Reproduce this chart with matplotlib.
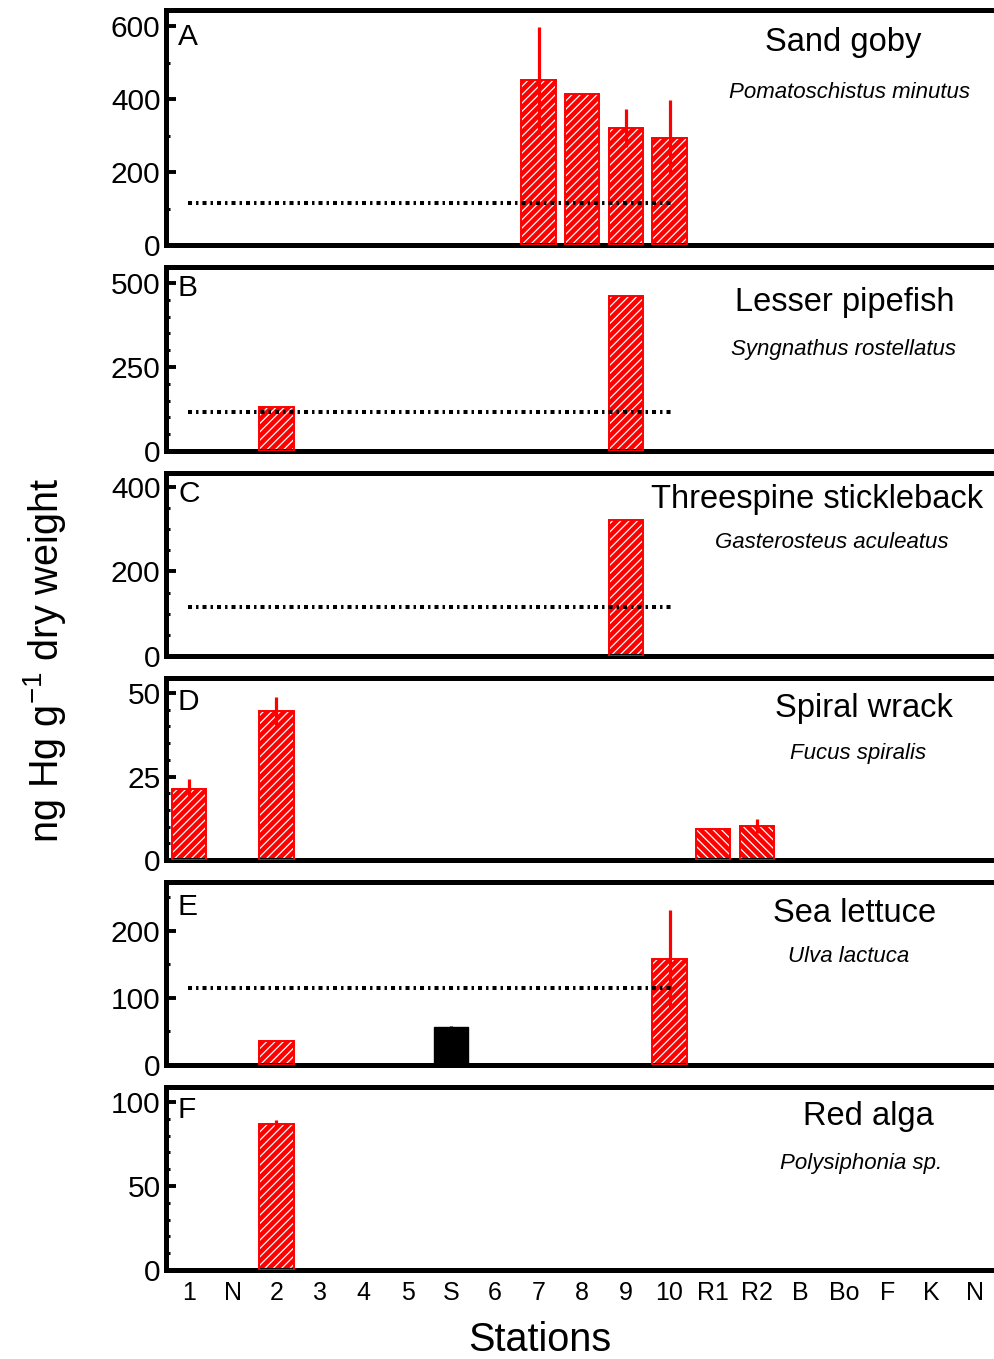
import numpy as np
import matplotlib
matplotlib.use("Agg")
import matplotlib.pyplot as plt
from matplotlib.ticker import MultipleLocator

plt.rcParams['font.family'] = ['Liberation Sans', 'DejaVu Sans']
plt.rcParams['mathtext.default'] = 'regular'
plt.rcParams['hatch.linewidth'] = 0.9

# ---------------- data ----------------
stations = ['1', 'N', '2', '3', '4', '5', 'S', '6', '7', '8', '9', '10',
            'R1', 'R2', 'B', 'Bo', 'F', 'K', 'N']

ref_level = 115          # dotted reference level
ref_from, ref_to = '1', '10'

# A  Sand goby
goby_st = ['7', '8', '9', '10']
goby_val = [452, 415, 320, 294]
goby_err = [147, 0, 52, 104]

# B  Lesser pipefish
pipe_st = ['2', '9']
pipe_val = [131, 461]
pipe_err = [0, 0]

# C  Threespine stickleback
stick_st = ['9']
stick_val = [322]
stick_err = [0]

# D  Spiral wrack
wrack_st = ['1', '2', 'R1', 'R2']
wrack_val = [21.3, 44.6, 9.3, 10.2]
wrack_err = [3.0, 4.2, 0, 2.0]

# E  Sea lettuce
lettuce_st = ['2', 'S', '10']
lettuce_val = [36, 56, 158]
lettuce_err = [0, 2.5, 73]

# F  Red alga
alga_st = ['2']
alga_val = [87]
alga_err = [2.2]

panels = [
    dict(letter='A', common='Sand goby', latin='Pomatoschistus minutus',
         st=goby_st, val=goby_val, err=goby_err, ylim=645, major=200, minor=100,
         ref=True),
    dict(letter='B', common='Lesser pipefish', latin='Syngnathus rostellatus',
         st=pipe_st, val=pipe_val, err=pipe_err, ylim=548, major=250, minor=50,
         ref=True),
    dict(letter='C', common='Threespine stickleback', latin='Gasterosteus aculeatus',
         st=stick_st, val=stick_val, err=stick_err, ylim=433, major=200, minor=50,
         ref=True),
    dict(letter='D', common='Spiral wrack', latin='Fucus spiralis',
         st=wrack_st, val=wrack_val, err=wrack_err, ylim=54.5, major=25, minor=5,
         ref=False),
    dict(letter='E', common='Sea lettuce', latin='Ulva lactuca',
         st=lettuce_st, val=lettuce_val, err=lettuce_err, ylim=273, major=100, minor=50,
         ref=True),
    dict(letter='F', common='Red alga', latin='Polysiphonia sp.',
         st=alga_st, val=alga_val, err=alga_err, ylim=109, major=50, minor=10,
         ref=False),
]

# ---------------- layout (pixels) ----------------
W, H = 995, 1359
panel_px = [(10, 245), (267, 451), (473, 656), (678, 860), (882, 1065), (1087, 1270)]
title_y = [42, 303, 500, 709, 913, 1117]
title_x = [843, 845, 817, 864, 855, 868]
latin_y = [92, 349, 542, 753, 957, 1164]
latin_x = [850, 844, 832, 858, 849, 861]
letter_y = [37, 288, 494, 702, 907, 1110]

left_px = 166
xmin, xmax = -0.53, 18.7
step_px = 43.67
right_px = left_px + (xmax - xmin) * step_px

fig = plt.figure(figsize=(W / 100, H / 100), dpi=100)

RED = '#ff0000'
bar_w = 0.78
xpos = np.arange(len(stations))

for i, p in enumerate(panels):
    top, bot = panel_px[i]
    ax = fig.add_axes([left_px / W, 1 - bot / H, (right_px - left_px) / W, (bot - top) / H])
    idx = [stations.index(s) for s in p['st']]
    for j, (k, v, e) in enumerate(zip(idx, p['val'], p['err'])):
        st = p['st'][j]
        if p['letter'] == 'E' and st == 'S':
            ax.bar(k, v, width=bar_w, color='black', edgecolor='black', linewidth=1, zorder=2)
            ecol = 'black'
        else:
            hatch = '\\\\\\\\' if st in ('R1', 'R2') else '////'
            ax.bar(k, v, width=bar_w, color=RED, edgecolor='white', hatch=hatch,
                   linewidth=0, zorder=2)
            ax.bar(k, v, width=bar_w, fill=False, edgecolor=RED, linewidth=1.4, zorder=3)
            ecol = RED
        if e > 0:
            ax.errorbar(k, v, yerr=e, fmt='none', ecolor=ecol, elinewidth=2.3,
                        capsize=0, zorder=4)
    if p['ref']:
        ax.plot([stations.index(ref_from) - 0.02, stations.index(ref_to) + 0.05],
                [ref_level, ref_level],
                color='black', lw=2.9, dashes=(1.0, 1.0, 0.6, 1.0), zorder=5,
                solid_capstyle='butt', dash_capstyle='butt')

    ax.set_xlim(xmin, xmax)
    ax.set_ylim(0, p['ylim'])
    ax.yaxis.set_major_locator(MultipleLocator(p['major']))
    ax.yaxis.set_minor_locator(MultipleLocator(p['minor']))
    ax.set_xticks(xpos)
    if i == len(panels) - 1:
        ax.set_xticklabels(stations, fontsize=18)
    else:
        ax.set_xticklabels([])
    ax.tick_params(axis='x', length=0, pad=8)
    ax.tick_params(axis='y', which='major', direction='in', length=7, width=2.8,
                   labelsize=21.5, pad=4)
    ax.tick_params(axis='y', which='minor', direction='in', length=3, width=2.2)
    for side in ['left', 'top', 'bottom']:
        ax.spines[side].set_linewidth(3.6)
    ax.spines['right'].set_visible(False)

    fig.text(178 / W, 1 - letter_y[i] / H, p['letter'], fontsize=21.5,
             ha='left', va='center')
    fig.text(title_x[i] / W, 1 - title_y[i] / H, p['common'], fontsize=23.5,
             ha='center', va='center')
    fig.text(latin_x[i] / W, 1 - latin_y[i] / H, p['latin'], fontsize=16,
             style='italic', ha='center', va='center')

fig.text(540 / W, 1 - 1340 / H, 'Stations', fontsize=28.5, ha='center', va='center')
fig.text(45 / W, 1 - 660 / H, r'ng Hg g$^{-1}$ dry weight', fontsize=28.5,
         rotation=90, ha='center', va='center')

fig.savefig('out.png', dpi=100)
